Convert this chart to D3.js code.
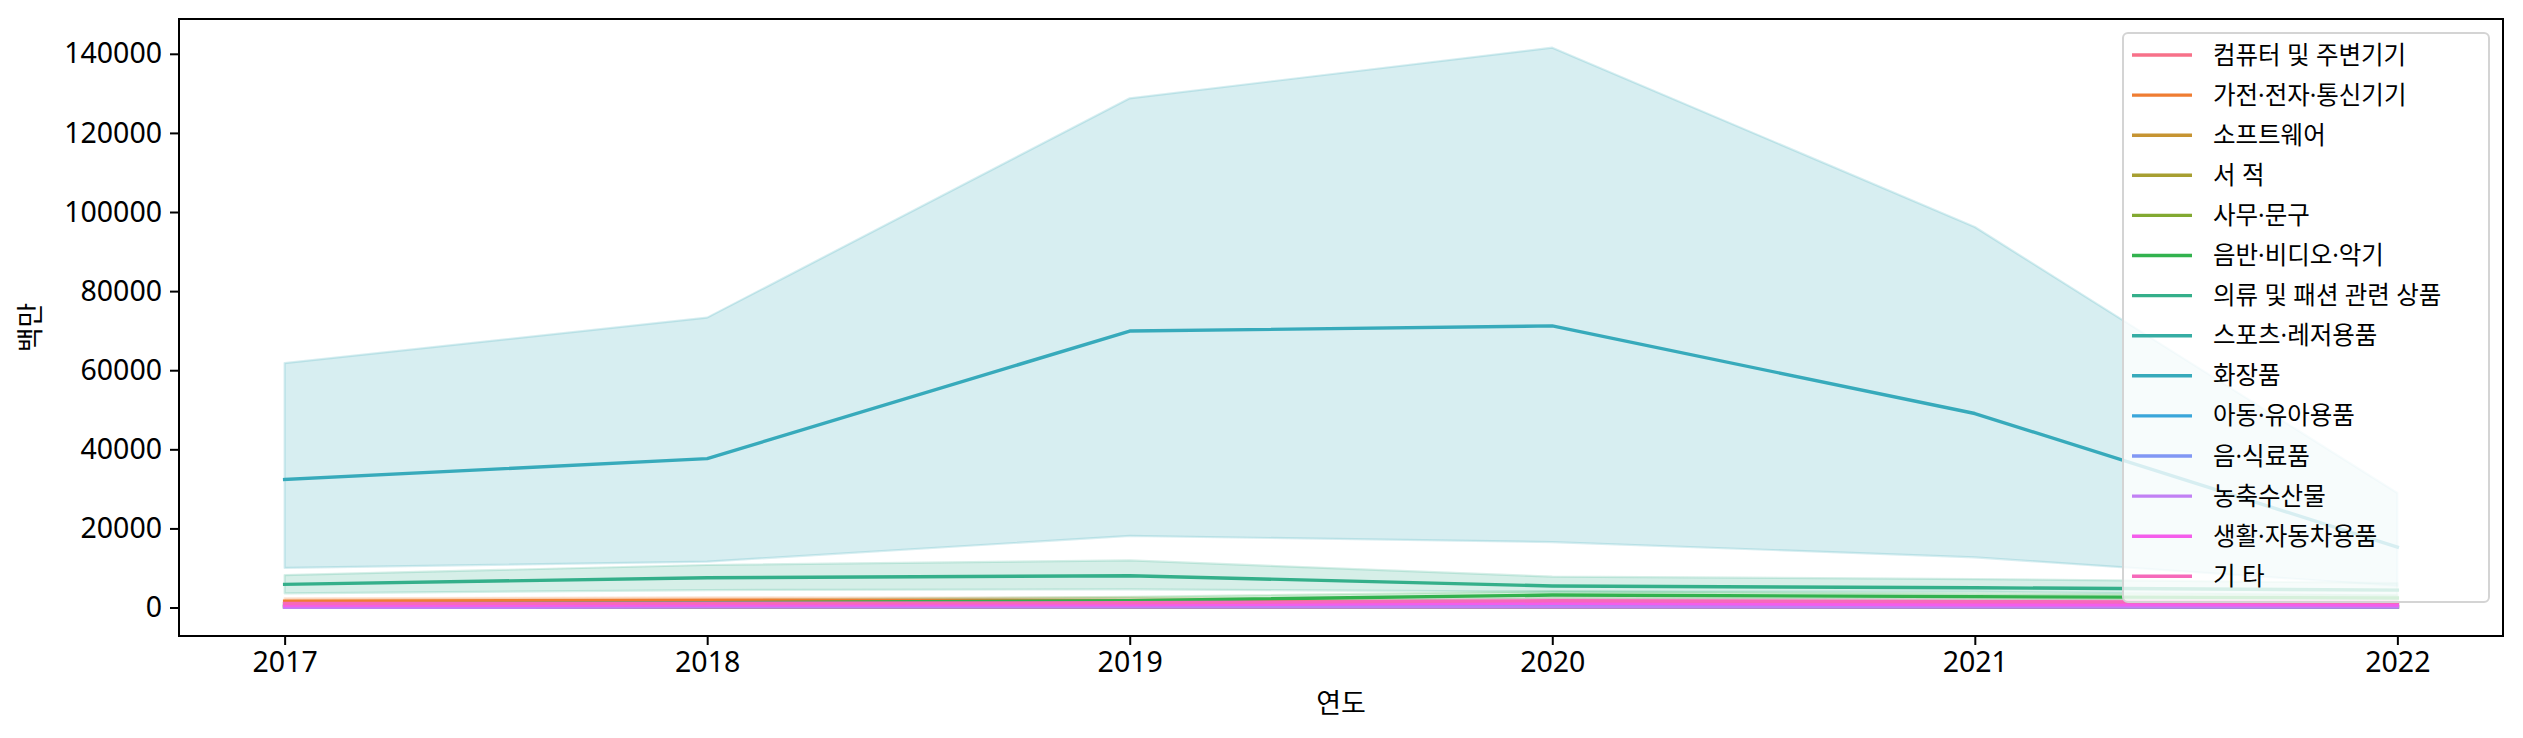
<!DOCTYPE html>
<html>
<head>
<meta charset="utf-8">
<script src="https://cdn.jsdelivr.net/npm/d3@7"></script>
<style>
  html, body { margin: 0; padding: 0; background: #fff; }
  svg { display: block; }
  text { font-family: "Noto Sans", "Noto Sans CJK KR", sans-serif; fill: #000; }
</style>
</head>
<body>
<svg id="chart" width="2523" height="738"></svg>
<script>
// ---------------- DATA ----------------
const years = [2017, 2018, 2019, 2020, 2021, 2022];
const categories = [
  "컴퓨터 및 주변기기", "가전·전자·통신기기", "소프트웨어", "서 적", "사무·문구",
  "음반·비디오·악기", "의류 및 패션 관련 상품", "스포츠·레저용품", "화장품",
  "아동·유아용품", "음·식료품", "농축수산물", "생활·자동차용품", "기 타"
];
// mean value per category (rows) and year (columns), 백만
const meanValues = [
  [900, 850, 800, 1100, 1000, 900],
  [1600, 1850, 1750, 1000, 800, 700],
  [60, 50, 40, 40, 30, 30],
  [150, 140, 130, 150, 140, 120],
  [100, 110, 100, 120, 110, 100],
  [900, 1200, 1750, 3150, 2750, 2400],
  [5860, 7540, 8040, 5440, 5000, 4400],
  [250, 280, 300, 350, 300, 250],
  [32360, 37650, 69900, 71200, 49050, 15300],
  [400, 380, 350, 300, 250, 200],
  [600, 650, 700, 800, 750, 700],
  [80, 90, 100, 150, 120, 110],
  [500, 600, 700, 1060, 700, 650],
  [1000, 1100, 1200, 1700, 1470, 1300]
];
// lower bound of the 95% confidence band
const ciLow = [
  [600, 550, 500, 700, 650, 600],
  [1000, 1200, 1100, 600, 500, 400],
  [20, 15, 10, 10, 10, 10],
  [80, 70, 60, 80, 70, 60],
  [50, 60, 50, 60, 55, 50],
  [400, 600, 900, 2300, 2000, 1700],
  [3600, 4420, 4600, 4000, 4000, 3000],
  [120, 140, 150, 180, 150, 120],
  [10000, 11600, 18100, 16550, 12700, 5500],
  [200, 190, 170, 150, 120, 100],
  [350, 380, 400, 500, 450, 420],
  [30, 40, 40, 70, 60, 50],
  [300, 350, 400, 700, 450, 400],
  [600, 700, 750, 1200, 1000, 850]
];
// upper bound of the 95% confidence band
const ciHigh = [
  [1250, 1200, 1150, 1550, 1400, 1250],
  [2300, 2600, 2500, 1500, 1200, 1050],
  [110, 95, 80, 80, 60, 60],
  [230, 220, 210, 230, 220, 190],
  [150, 170, 150, 190, 170, 150],
  [1500, 1900, 2700, 4100, 3500, 3100],
  [8200, 10750, 11900, 7800, 7200, 6200],
  [400, 440, 470, 550, 470, 400],
  [61800, 73300, 128750, 141550, 96200, 28950],
  [650, 600, 560, 480, 400, 330],
  [900, 950, 1050, 1150, 1080, 1000],
  [140, 150, 170, 240, 200, 180],
  [750, 880, 1050, 1450, 1000, 950],
  [1450, 1550, 1700, 2250, 2000, 1800]
];
const yTicks = [0, 20000, 40000, 60000, 80000, 100000, 120000, 140000];
const xLabel = "연도";
const yLabel = "백만";

// ---------------- HUSL palette (seaborn husl_palette) ----------------
function huslPalette(n, h0 = 0.01, s0 = 0.9, l0 = 0.65) {
  const m = [[3.2406, -1.5372, -0.4986], [-0.9689, 1.8758, 0.0415], [0.0557, -0.2040, 1.0570]];
  const refU = 0.19784, refV = 0.46834, labE = 0.008856, labK = 903.3;
  function maxChroma(L, H) {
    const hr = H * Math.PI / 180, sinH = Math.sin(hr), cosH = Math.cos(hr);
    const sub1 = Math.pow(L + 16, 3) / 1560896.0;
    const sub2 = sub1 > 0.008856 ? sub1 : L / 903.3;
    let res = Infinity;
    for (const [m1, m2, m3] of m) {
      const top = (0.99915 * m1 + 1.05122 * m2 + 1.14460 * m3) * sub2;
      const rb = 0.86330 * m3 - 0.17266 * m2;
      const lb = 0.12949 * m3 - 0.38848 * m1;
      const bottom = (rb * sinH + lb * cosH) * sub2;
      for (const t of [0, 1]) {
        const C = L * (top - 1.05122 * t) / (bottom + 0.17266 * sinH * t);
        if (C > 0 && C < res) res = C;
      }
    }
    return res;
  }
  const fInv = t => Math.pow(t, 3) > labE ? Math.pow(t, 3) : (116 * t - 16) / labK;
  const fromLin = c => c <= 0.0031308 ? 12.92 * c : 1.055 * Math.pow(c, 1 / 2.4) - 0.055;
  function toRgb(H, S, L) {
    const C = maxChroma(L, H) / 100 * S;
    const hr = H * Math.PI / 180;
    const U = Math.cos(hr) * C, V = Math.sin(hr) * C;
    const varY = fInv((L + 16) / 116);
    const varU = U / (13 * L) + refU, varV = V / (13 * L) + refV;
    const Y = varY;
    const X = -(9 * Y * varU) / ((varU - 4) * varV - varU * varV);
    const Z = (9 * Y - 15 * varV * Y - varV * X) / (3 * varV);
    const rgb = m.map(r => fromLin(r[0] * X + r[1] * Y + r[2] * Z));
    return d3.rgb(...rgb.map(c => Math.round(Math.max(0, Math.min(1, c)) * 255))).formatHex();
  }
  const out = [];
  for (let i = 0; i < n; i++) {
    let h = (i / n + h0) % 1;
    out.push(toRgb(h * 359, s0 * 99, l0 * 99));
  }
  return out;
}
const colors = huslPalette(categories.length);

// ---------------- LAYOUT ----------------
const svg = d3.select("#chart");
const plot = { left: 179, right: 2503, top: 19, bottom: 636 };

const x = d3.scaleLinear().domain([2016.75, 2022.25]).range([plot.left, plot.right]);
const y = d3.scaleLinear().domain([-7200, 148800]).range([plot.bottom, plot.top]);

svg.append("defs").append("clipPath").attr("id", "clip")
  .append("rect").attr("x", plot.left).attr("y", plot.top)
  .attr("width", plot.right - plot.left).attr("height", plot.bottom - plot.top);

const g = svg.append("g").attr("clip-path", "url(#clip)");

const area = d3.area().x((d, i) => x(years[i])).y0(d => y(d[0])).y1(d => y(d[1]));
const line = d3.line().x((d, i) => x(years[i])).y(d => y(d));

// bands (drawn below all lines)
categories.forEach((c, k) => {
  const band = years.map((yr, i) => [ciLow[k][i], ciHigh[k][i]]);
  g.append("path").datum(band)
    .attr("d", area)
    .attr("fill", colors[k]).attr("fill-opacity", 0.2)
    .attr("stroke", colors[k]).attr("stroke-opacity", 0.2).attr("stroke-width", 2.2)
    .attr("stroke-linejoin", "round");
});
// mean lines
categories.forEach((c, k) => {
  g.append("path").datum(meanValues[k])
    .attr("d", line)
    .attr("fill", "none")
    .attr("stroke", colors[k]).attr("stroke-width", 3.4)
    .attr("stroke-linecap", "square").attr("stroke-linejoin", "round");
});

// axes
const tickFont = 28.5;
const xAxis = d3.axisBottom(x).tickValues(years).tickFormat(d3.format("d"))
  .tickSizeInner(9).tickSizeOuter(0).tickPadding(7);
const yAxis = d3.axisLeft(y).tickValues(yTicks).tickFormat(d3.format("d"))
  .tickSizeInner(9).tickSizeOuter(0).tickPadding(8);

const gx = svg.append("g").attr("transform", `translate(0,${plot.bottom})`).call(xAxis);
const gy = svg.append("g").attr("transform", `translate(${plot.left},0)`).call(yAxis);
[gx, gy].forEach(a => {
  a.select(".domain").remove();
  a.selectAll(".tick line").attr("stroke", "#000").attr("stroke-width", 2);
  a.selectAll(".tick text").attr("font-size", tickFont).attr("fill", "#000")
    .style("font-family", '"Noto Sans", "Noto Sans CJK KR", sans-serif');
});

// frame
svg.append("rect")
  .attr("x", plot.left).attr("y", plot.top)
  .attr("width", plot.right - plot.left).attr("height", plot.bottom - plot.top)
  .attr("fill", "none").attr("stroke", "#000").attr("stroke-width", 2);

// axis labels
svg.append("text").attr("x", (plot.left + plot.right) / 2).attr("y", 713)
  .attr("text-anchor", "middle").attr("font-size", 27).text(xLabel);
svg.append("text").attr("transform", `translate(40,${(plot.top + plot.bottom) / 2}) rotate(-90)`)
  .attr("text-anchor", "middle").attr("font-size", 27).text(yLabel);

// legend
const leg = svg.append("g");
leg.append("rect").attr("x", 2123).attr("y", 33).attr("width", 366).attr("height", 569)
  .attr("rx", 5).attr("fill", "#fff").attr("fill-opacity", 0.8)
  .attr("stroke", "#d4d4d4").attr("stroke-width", 2);
categories.forEach((c, k) => {
  const cy = 55 + k * 40.1;
  leg.append("line").attr("x1", 2132).attr("x2", 2192).attr("y1", cy).attr("y2", cy)
    .attr("stroke", colors[k]).attr("stroke-width", 3.4);
  leg.append("text").attr("x", 2213).attr("y", cy).attr("dy", "0.35em")
    .attr("font-size", 24.5).text(c);
});
</script>
</body>
</html>
